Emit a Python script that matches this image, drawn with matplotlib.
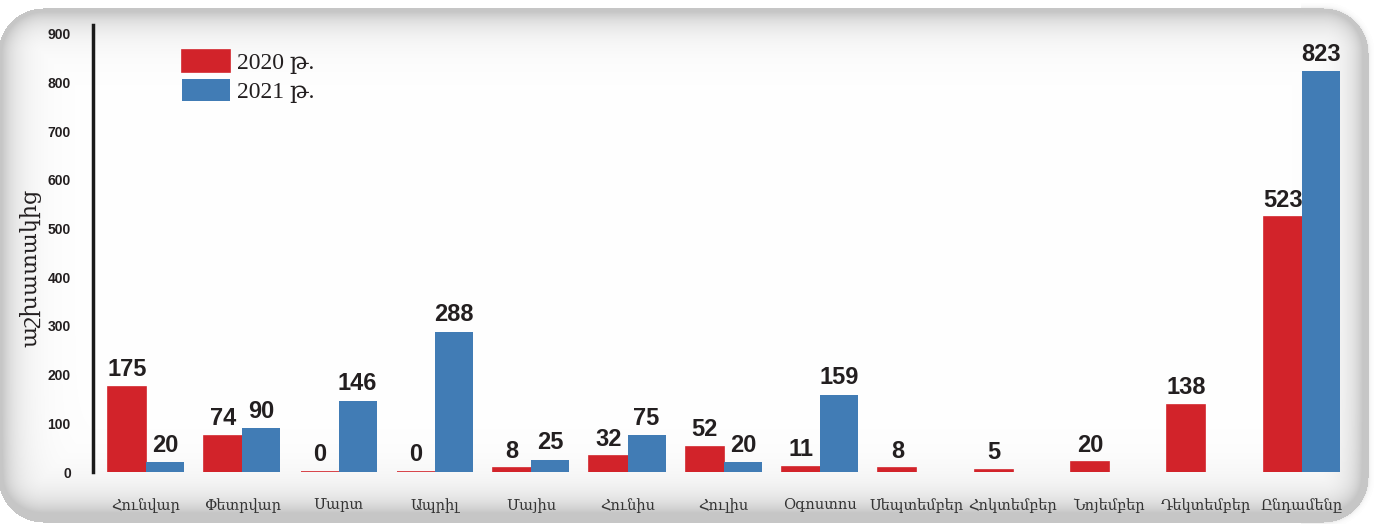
import numpy as np
import matplotlib
matplotlib.use("Agg")
import matplotlib.pyplot as plt

months = ["Հունվար", "Փետրվար", "Մարտ", "Ապրիլ", "Մայիս", "Հունիս", "Հուլիս",
          "Օգոստոս", "Սեպտեմբեր", "Հոկտեմբեր", "Նոյեմբեր", "Դեկտեմբեր", "Ընդամենը"]
vals_2020 = [175, 74, 0, 0, 8, 32, 52, 11, 8, 5, 20, 138, 523]
vals_2021 = [20, 90, 146, 288, 25, 75, 20, 159, None, None, None, None, 823]
yticks = [0, 100, 200, 300, 400, 500, 600, 700, 800, 900]

red = "#d2232a"
blue = "#417cb5"
txt = "#231f20"
serif = ["DejaVu Serif"]

W, H = 1375, 524
fig = plt.figure(figsize=(W / 100, H / 100), dpi=100)
fig.patch.set_facecolor("white")

# rounded panel with soft grey edges (background decoration)
yy, xx = np.mgrid[0:H, 0:W].astype(float)
x0, x1, y0, y1, r = -2.0, 1368.0, 8.0, 522.0, 45.0
cx, cy = (x0 + x1) / 2, (y0 + y1) / 2
qx = np.abs(xx - cx) - ((x1 - x0) / 2 - r)
qy = np.abs(yy - cy) - ((y1 - y0) / 2 - r)
sdf = np.hypot(np.maximum(qx, 0), np.maximum(qy, 0)) + np.minimum(np.maximum(qx, qy), 0) - r
din = np.maximum(-sdf, 0)
shade = 1 - 0.18 * np.exp(-np.minimum(yy - y0, din) / 20)
shade -= 0.10 * np.exp(-din / 10)
shade -= 0.11 * np.exp(-np.maximum(y1 - yy, 0) / 24)
shade -= 0.07 * np.exp(-np.maximum(x1 - xx, 0) / 7)
shade = np.clip(shade, 0.78, 1)
shade[sdf > 0] = 1.0
outer = (sdf > 0) & (sdf < 6) & (xx > 1300)
shade[outer] = 1 - 0.08 * np.exp(-sdf[outer] / 2)
bg = fig.add_axes([0, 0, 1, 1], zorder=-5)
bg.imshow(np.dstack([shade] * 3), extent=(0, W, H, 0), aspect="auto", interpolation="bilinear")
bg.set_axis_off()

ax = fig.add_axes([93 / W, (H - 472) / H, (1345 - 93) / W, (472 - 25) / H])
ax.patch.set_alpha(0)

x = np.arange(len(months))
bw = 0.395
ax.bar(x - bw / 2, vals_2020, width=bw, color=red, edgecolor=red, linewidth=1.2, label="2020 թ.")
xb = [i + bw / 2 for i, v in enumerate(vals_2021) if v is not None]
vb = [v for v in vals_2021 if v is not None]
ax.bar(xb, vb, width=bw, color=blue, linewidth=0, label="2021 թ.")

lbl = dict(textcoords="offset points", ha="center", va="bottom", fontsize=17,
           fontweight="bold", family="Liberation Sans", color=txt)
for i, v in enumerate(vals_2020):
    ax.annotate(str(v), (x[i] - bw / 2, v), xytext=(0, 4), **lbl)
for xi, v in zip(xb, vb):
    ax.annotate(str(v), (xi, v), xytext=(0, 4), **lbl)

ax.set_xlim(-0.55, 12.45)
ax.set_ylim(0, 918)
ax.set_yticks(yticks)
ax.set_yticklabels([str(t) for t in yticks], fontsize=10, fontweight="bold",
                   family="Liberation Sans", color=txt)
ax.tick_params(axis="y", length=0, pad=16)
ax.set_xticks(x)
ax.set_xticklabels(months, fontsize=10.5, family=serif, color="#333333")
ax.tick_params(axis="x", length=0, pad=19)

for s in ["top", "right", "bottom"]:
    ax.spines[s].set_visible(False)
ax.spines["left"].set_linewidth(2.5)
ax.spines["left"].set_color("#1a1a1a")

fig.text(30 / W, 1 - 268 / H, "աշխատակից", rotation=90, ha="center", va="center",
         fontsize=16, family=serif, color=txt)

leg = ax.legend(loc="upper left", bbox_to_anchor=(80 / 1252, 1 - 16 / 447), frameon=False,
                prop={"family": ["Liberation Serif", "DejaVu Serif"], "size": 17},
                handlelength=2.0, handleheight=1.05, handletextpad=0.3, labelspacing=0.2,
                borderaxespad=0)
for t in leg.get_texts():
    t.set_color(txt)

fig.savefig("out.png", dpi=100)
